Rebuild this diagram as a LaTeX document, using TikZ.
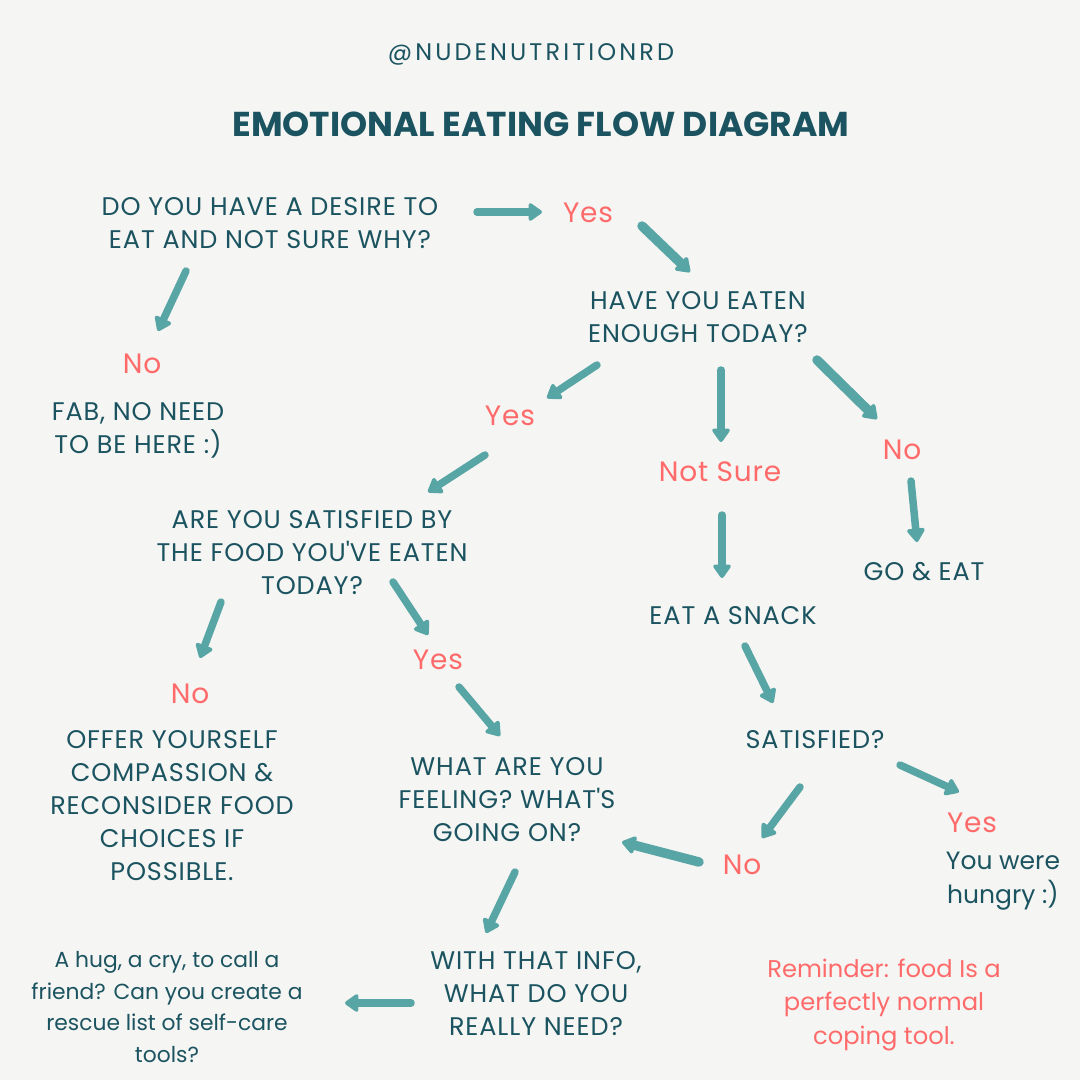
\documentclass[tikz,border=0pt]{standalone}
\usepackage{fontspec}
\setmainfont{Poppins}
\usepackage{xcolor}
\usepackage{tikz}
\usetikzlibrary{arrows.meta,calc}
\definecolor{NNdark}{HTML}{1B5460}
\definecolor{NNteal}{HTML}{58A5A5}
\definecolor{NNred}{HTML}{FF6B6B}
\definecolor{NNbg}{HTML}{F5F5F3}

\begin{document}
\begin{tikzpicture}[x=1pt, y=-1pt,
    qtext/.style={NNdark, align=center, inner sep=0pt,
      font=\fontsize{25.5}{33}\selectfont\addfontfeatures{LetterSpace=3.5}},
    ans/.style={NNred, inner sep=0pt,
      font=\fontsize{28}{30}\selectfont\addfontfeatures{LetterSpace=3}},
    note/.style={align=center, inner sep=0pt, font=\fontsize{21.8}{31.5}\selectfont},
    arr/.style={NNteal, line width=7.5pt, line cap=round,
      -{Triangle[length=15pt,width=20pt,round]}},
    thick arr/.style={arr, line width=9.5pt}]
  \fill[NNbg] (0,0) rectangle (1080,1080);
  \useasboundingbox (0,0) rectangle (1080,1080);

  % header
  \node[NNdark, font=\fontsize{24}{26}\selectfont\addfontfeatures{LetterSpace=13}]
    (handle) at (531,54) {@NUDENUTRITIONRD};
  \node[NNdark, font=\fontsize{34.5}{40}\selectfont\bfseries] (title) at (541,124)
    {EMOTIONAL EATING FLOW DIAGRAM};

  % questions and answers
  \node[qtext] (q1) at (270,223) {DO YOU HAVE A DESIRE TO\\EAT AND NOT SURE WHY?};
  \node[ans] (yes1) at (588,213) {Yes};
  \node[qtext] (q2) at (698,317) {HAVE YOU EATEN\\ENOUGH TODAY?};
  \node[ans] (no1) at (142,364) {No};
  \node[qtext] (fab) at (138,430) {FAB, NO NEED\\TO BE HERE :)};
  \node[ans] (yes2) at (510,416) {Yes};
  \node[ans] (notsure) at (720,472) {Not Sure};
  \node[ans] (no2) at (902,450) {No};
  \node[qtext] (goeat) at (924,572) {GO \& EAT};
  \node[qtext] (snack) at (733,616) {EAT A SNACK};
  \node[qtext] (q3) at (312,553)
    {ARE YOU SATISFIED BY\\THE FOOD YOU\textquotesingle VE EATEN\\TODAY?};
  \node[ans] (no3) at (190,694) {No};
  \node[qtext] (offer) at (172,806)
    {OFFER YOURSELF\\COMPASSION \&\\RECONSIDER FOOD\\CHOICES IF\\POSSIBLE.};
  \node[ans] (yes3) at (438,660) {Yes};
  \node[qtext] (q4) at (507,800)
    {WHAT ARE YOU\\FEELING? WHAT\textquotesingle S\\GOING ON?};
  \node[qtext] (satisfied) at (815,740) {SATISFIED?};
  \node[ans] (yes4) at (972,823) {Yes};
  \node[note, NNdark, font=\fontsize{25}{34}\selectfont] (hungry) at (1003,881)
    {You were\\hungry :)};
  \node[ans] (no4) at (742,865) {No};
  \node[qtext] (q5) at (536,994) {WITH THAT INFO,\\WHAT DO YOU\\REALLY NEED?};
  \node[note, NNdark] (tools) at (167,1007)
    {A hug, a cry, to call a\\friend? Can you create a\\rescue list of self-care\\tools?};
  \node[note, NNred, font=\fontsize{24.2}{33.5}\selectfont] (reminder) at (884,1005)
    {Reminder: food Is a\\perfectly normal\\coping tool.};

  % arrows
  \draw[arr] ($(q1)+(207,-11)$) -- ($(yes1)+(-46,-1)$);
  \draw[thick arr] ($(yes1)+(54,13)$) -- ($(q2)+(-8,-45)$);
  \draw[arr] ($(q1)+(-84,48)$) -- ($(no1)+(16,-33)$);
  \draw[arr] ($(q2)+(-101,48)$) -- ($(yes2)+(37,-18)$);
  \draw[arr] ($(q2)+(23,53)$) -- ($(notsure)+(1,-30)$);
  \draw[thick arr] ($(q2)+(119,43)$) -- ($(no2)+(-25,-31)$);
  \draw[arr] ($(no2)+(9,31)$) -- ($(goeat)+(-7,-30)$);
  \draw[arr] ($(notsure)+(2,43)$) -- ($(snack)+(-11,-38)$);
  \draw[arr] ($(yes2)+(-25,39)$) -- ($(q3)+(116,-61)$);
  \draw[arr] ($(q3)+(-91,49)$) -- ($(no3)+(10,-36)$);
  \draw[arr] ($(q3)+(81,29)$) -- ($(yes3)+(-10,-25)$);
  \draw[arr] ($(yes3)+(21,27)$) -- ($(q4)+(-7,-64)$);
  \draw[arr] ($(snack)+(12,30)$) -- ($(satisfied)+(-42,-37)$);
  \draw[arr] ($(satisfied)+(85,25)$) -- ($(yes4)+(-13,-31)$);
  \draw[arr] ($(satisfied)+(-15,47)$) -- ($(no4)+(20,-27)$);
  \draw[thick arr] ($(no4)+(-43,-3)$) -- ($(q4)+(115,42)$);
  \draw[arr] ($(q4)+(8,72)$) -- ($(q5)+(-50,-61)$);
  \draw[arr] ($(q5)+(-125,9)$) -- ($(tools)+(178,-4)$);
\end{tikzpicture}
\end{document}
